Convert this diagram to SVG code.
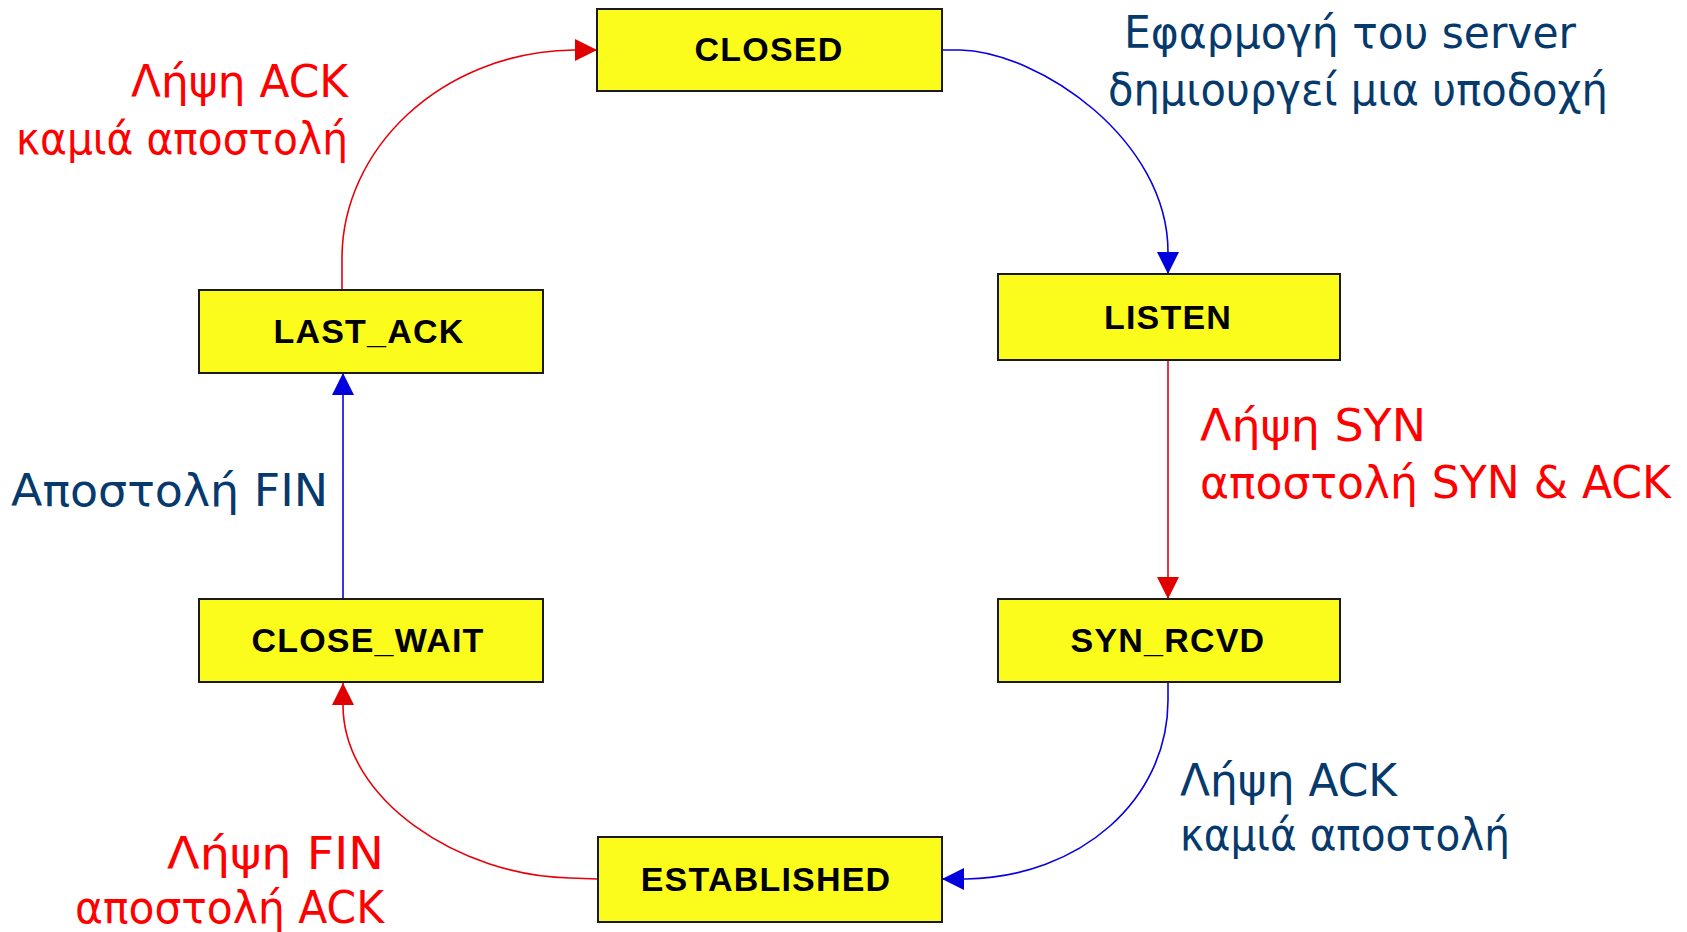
<svg xmlns="http://www.w3.org/2000/svg" width="1687" height="932" viewBox="0 0 1687 932">
<style>
.node rect{fill:#fcfc1c;stroke:#1a1a1a;stroke-width:2}
.node text{font-family:"Liberation Sans",Arial,sans-serif;font-weight:bold;font-size:34px;letter-spacing:1.2px;fill:#000;text-anchor:middle}
.lbl{font-family:"DejaVu Sans","Noto Sans",sans-serif;font-size:45px}
.red{fill:#ff0000}
.navy{fill:#063a6c}
.cr{fill:none;stroke:#e8000a;stroke-width:1.6}
.cb{fill:none;stroke:#0a00e0;stroke-width:1.6}
</style>
<defs>
<marker id="ar" markerUnits="userSpaceOnUse" markerWidth="24" markerHeight="22" refX="22" refY="11" orient="auto"><path d="M0,0 L22,11 L0,22 Z" fill="#e00000"/></marker>
<marker id="ab" markerUnits="userSpaceOnUse" markerWidth="24" markerHeight="22" refX="22" refY="11" orient="auto"><path d="M0,0 L22,11 L0,22 Z" fill="#0000dd"/></marker>
</defs>
<rect width="1687" height="932" fill="#fff"/>
<g id="connectors">
<path class="cb" d="M942,50 L960,50 C1040,52 1168,140 1168,252 L1168,274" marker-end="url(#ab)"/>
<path class="cr" d="M1168,360 L1168,599" marker-end="url(#ar)"/>
<path class="cb" d="M1168,682 L1168,700 C1168,800 1080,877 966,879 L942,879" marker-end="url(#ab)"/>
<path class="cr" d="M598,879 L570,878 C460,876 343,800 343,705 L343,683" marker-end="url(#ar)"/>
<path class="cb" d="M343,599 L343,373" marker-end="url(#ab)"/>
<path class="cr" d="M342,290 L342,258 C342,150 440,52 574,50 L597,50" marker-end="url(#ar)"/>
</g>
<g id="closed" class="node"><rect x="597" y="9" width="345" height="82"/><text x="769" y="61">CLOSED</text></g>
<g id="listen" class="node"><rect x="998" y="274" width="342" height="86"/><text x="1168" y="329">LISTEN</text></g>
<g id="syn_rcvd" class="node"><rect x="998" y="599" width="342" height="83"/><text x="1168" y="652">SYN_RCVD</text></g>
<g id="established" class="node"><rect x="598" y="837" width="344" height="85"/><text x="766" y="891">ESTABLISHED</text></g>
<g id="close_wait" class="node"><rect x="199" y="599" width="344" height="83"/><text x="368" y="652">CLOSE_WAIT</text></g>
<g id="last_ack" class="node"><rect x="199" y="290" width="344" height="83"/><text x="369" y="343">LAST_ACK</text></g>
<g id="labels">
<text class="lbl red" x="131" y="97" textLength="217" lengthAdjust="spacingAndGlyphs">Λήψη ACK</text>
<text class="lbl red" x="16" y="154" textLength="332" lengthAdjust="spacingAndGlyphs">καμιά αποστολή</text>
<text class="lbl navy" x="1124" y="48" textLength="452" lengthAdjust="spacingAndGlyphs">Εφαρμογή του server</text>
<text class="lbl navy" x="1108" y="105" textLength="500" lengthAdjust="spacingAndGlyphs">δημιουργεί μια υποδοχή</text>
<text class="lbl red" x="1200" y="441" textLength="226" lengthAdjust="spacingAndGlyphs">Λήψη SYN</text>
<text class="lbl red" x="1200" y="498" textLength="471" lengthAdjust="spacingAndGlyphs">αποστολή SYN &amp; ACK</text>
<text class="lbl navy" x="11" y="506" textLength="317" lengthAdjust="spacingAndGlyphs">Αποστολή FIN</text>
<text class="lbl navy" x="1180" y="796" textLength="217" lengthAdjust="spacingAndGlyphs">Λήψη ACK</text>
<text class="lbl navy" x="1180" y="850" textLength="330" lengthAdjust="spacingAndGlyphs">καμιά αποστολή</text>
<text class="lbl red" x="167" y="869" textLength="217" lengthAdjust="spacingAndGlyphs">Λήψη FIN</text>
<text class="lbl red" x="75" y="923" textLength="309" lengthAdjust="spacingAndGlyphs">αποστολή ACK</text>
</g>
</svg>
